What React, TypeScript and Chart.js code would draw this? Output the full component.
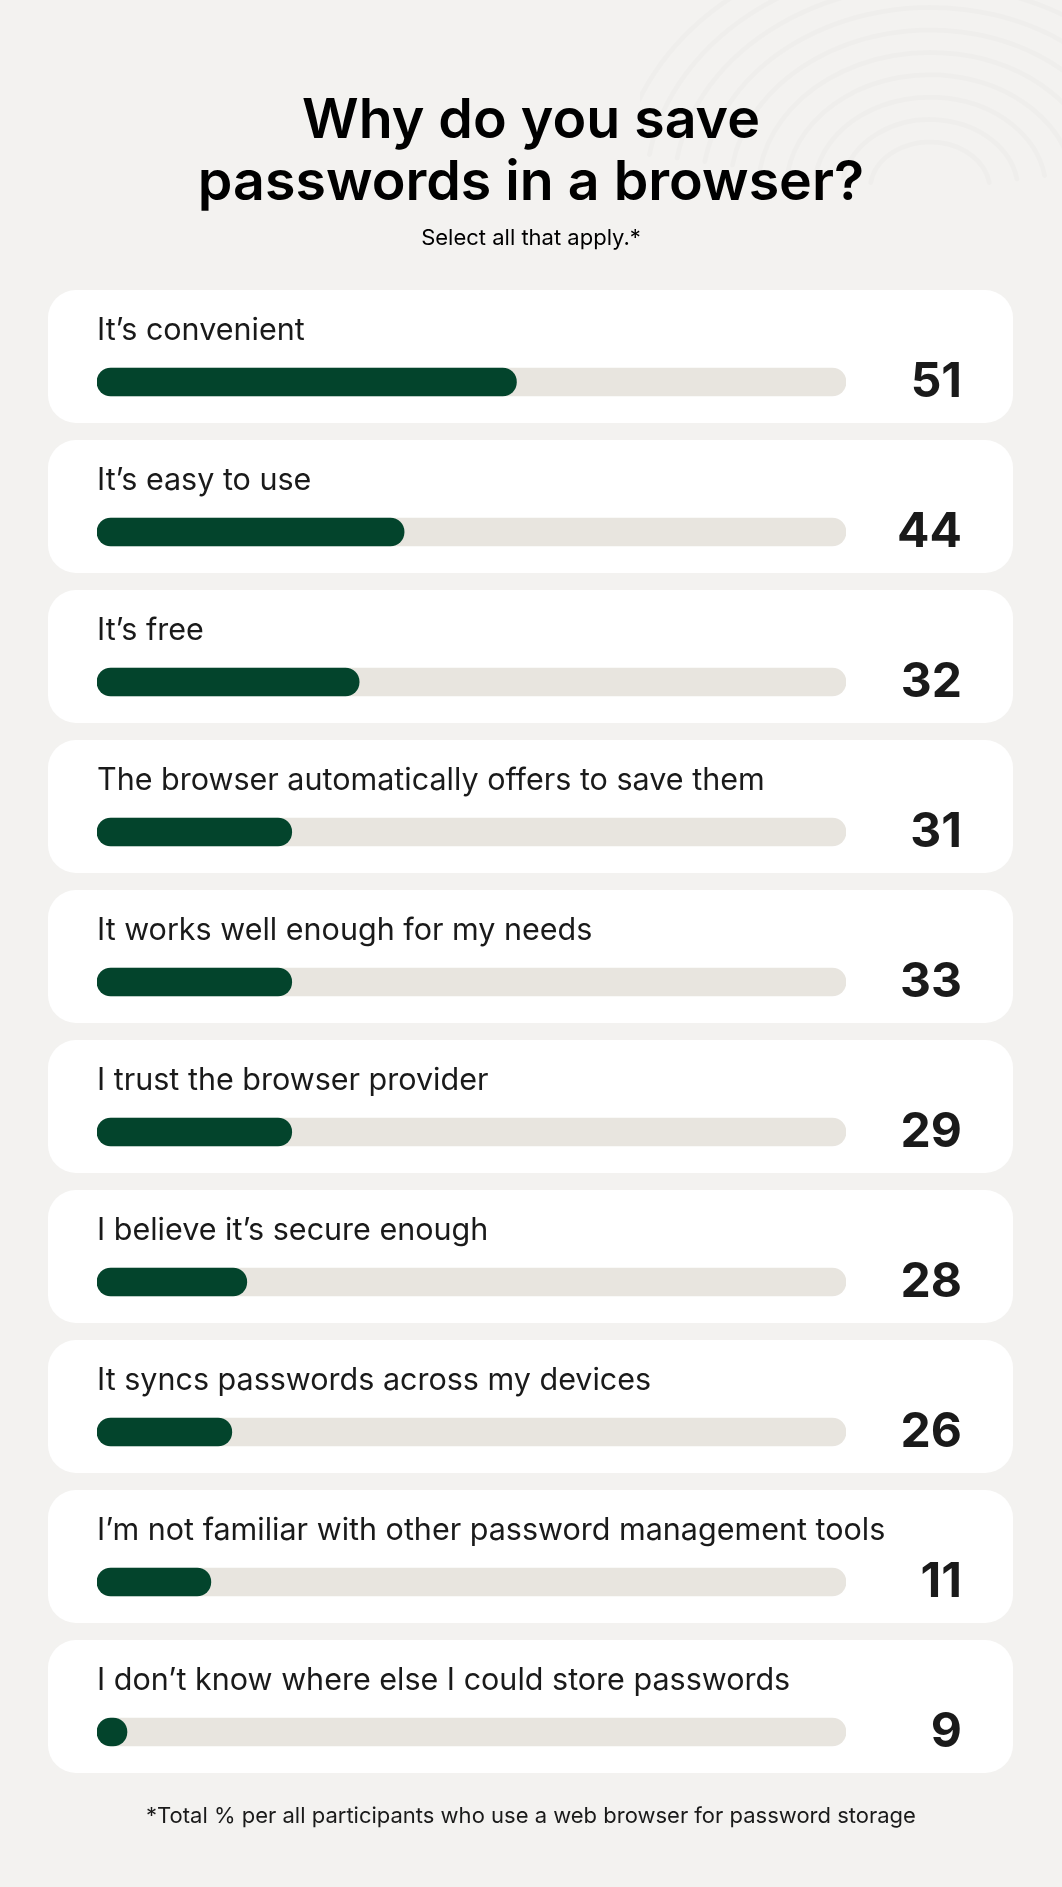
import React, { useEffect, useRef } from 'react';
import { Chart, registerables } from 'chart.js';

Chart.register(...registerables);

// ---- data ----
const titleLines = ['Why do you save', 'passwords in a browser?'];
const subtitle = 'Select all that apply.*';
const footnote = '*Total % per all participants who use a web browser for password storage';

const categories = [
  'It’s convenient',
  'It’s easy to use',
  'It’s free',
  'The browser automatically offers to save them',
  'It works well enough for my needs',
  'I trust the browser provider',
  'I believe it’s secure enough',
  'It syncs passwords across my devices',
  'I’m not familiar with other password management tools',
  'I don’t know where else I could store passwords',
];
// percentages printed at the right of each card
const percentages = [51, 44, 32, 31, 33, 29, 28, 26, 11, 9];
// filled length of each bar as drawn in the reference (% of the track)
const barLengths = [56, 41, 35, 26, 26, 26, 20, 18, 15.2, 4];
// full track (background pill)
const trackValues = [100, 100, 100, 100, 100, 100, 100, 100, 100, 100];

const W = 1062;
const H = 1887;
const FONT = 'Inter, "Noto Sans", "DejaVu Sans", sans-serif';
const BG = '#f3f2f0';
const GREEN = '#03442c';
const TRACK = '#e8e5df';
const INK = '#1a1a1a';

function roundRect(ctx: CanvasRenderingContext2D, x: number, y: number, w: number, h: number, r: number) {
  ctx.beginPath();
  ctx.moveTo(x + r, y);
  ctx.lineTo(x + w - r, y);
  ctx.arcTo(x + w, y, x + w, y + r, r);
  ctx.lineTo(x + w, y + h - r);
  ctx.arcTo(x + w, y + h, x + w - r, y + h, r);
  ctx.lineTo(x + r, y + h);
  ctx.arcTo(x, y + h, x, y + h - r, r);
  ctx.lineTo(x, y + r);
  ctx.arcTo(x, y, x + r, y, r);
  ctx.closePath();
}

const decorPlugin = {
  id: 'decor',
  beforeDraw(chart: any) {
    const ctx: CanvasRenderingContext2D = chart.ctx;
    const yScale = chart.scales.y;
    ctx.save();
    ctx.fillStyle = BG;
    ctx.fillRect(0, 0, W, H);

    // very faint fingerprint arcs, top right
    ctx.save();
    ctx.beginPath();
    ctx.rect(640, 0, W - 640, 190);
    ctx.clip();
    ctx.strokeStyle = 'rgba(0,0,0,0.016)';
    ctx.lineWidth = 5;
    ctx.lineCap = 'round';
    for (let r = 60; r <= 320; r += 28) {
      ctx.beginPath();
      ctx.ellipse(930, 190, r, r * 0.8, 0, Math.PI * 1.05, Math.PI * 1.95);
      ctx.stroke();
    }
    ctx.restore();

    // title
    ctx.fillStyle = '#000';
    ctx.textAlign = 'center';
    ctx.textBaseline = 'alphabetic';
    ctx.font = `600 55.5px ${FONT}`;
    ctx.fillText(titleLines[0], 531, 138);
    ctx.fillText(titleLines[1], 531, 200);
    ctx.font = `400 22px ${FONT}`;
    ctx.fillText(subtitle, 531, 245);

    // cards
    categories.forEach((_, i) => {
      const cy = yScale.getPixelForValue(i);
      ctx.fillStyle = '#ffffff';
      roundRect(ctx, 48, cy - 92, 965, 133, 28);
      ctx.fill();
    });

    // footnote
    ctx.fillStyle = INK;
    ctx.textAlign = 'center';
    ctx.font = `400 22px ${FONT}`;
    ctx.fillText(footnote, 531, 1823);
    ctx.restore();
  },
  afterDraw(chart: any) {
    const ctx: CanvasRenderingContext2D = chart.ctx;
    const yScale = chart.scales.y;
    const xScale = chart.scales.x;
    ctx.save();
    categories.forEach((label, i) => {
      const cy = yScale.getPixelForValue(i);
      ctx.fillStyle = INK;
      ctx.textAlign = 'left';
      ctx.textBaseline = 'alphabetic';
      ctx.font = `400 30.5px ${FONT}`;
      ctx.fillText(label, xScale.getPixelForValue(0), cy - 42);
      ctx.textAlign = 'right';
      ctx.font = `700 48px ${FONT}`;
      ctx.fillText(String(percentages[i]), 962, cy + 15);
    });
    ctx.restore();
  },
};

export default function App() {
  const ref = useRef<HTMLCanvasElement | null>(null);

  useEffect(() => {
    if (!ref.current) return;
    const chart = new Chart(ref.current, {
      type: 'bar',
      data: {
        labels: categories,
        datasets: [
          {
            label: 'Share',
            data: barLengths,
            backgroundColor: GREEN,
            borderRadius: 14,
            borderSkipped: false,
            barThickness: 28,
            grouped: false,
            order: 1,
          } as any,
          {
            label: 'Track',
            data: trackValues,
            backgroundColor: TRACK,
            borderRadius: 14,
            borderSkipped: false,
            barThickness: 28,
            grouped: false,
            order: 2,
          } as any,
        ],
      },
      options: {
        indexAxis: 'y',
        responsive: false,
        animation: false,
        events: [],
        layout: { padding: { left: 97, right: W - 846, top: 307, bottom: H - 1807 } },
        scales: {
          x: { display: false, min: 0, max: 100, stacked: false },
          y: { display: false, offset: true },
        },
        plugins: {
          legend: { display: false },
          tooltip: { enabled: false },
          title: { display: false },
        },
      },
      plugins: [decorPlugin],
    });
    return () => chart.destroy();
  }, []);

  return (
    <div style={{ position: 'absolute', left: 0, top: 0, width: W, height: H, background: BG }}>
      <canvas ref={ref} width={W} height={H} style={{ display: 'block', width: W, height: H }} />
    </div>
  );
}
